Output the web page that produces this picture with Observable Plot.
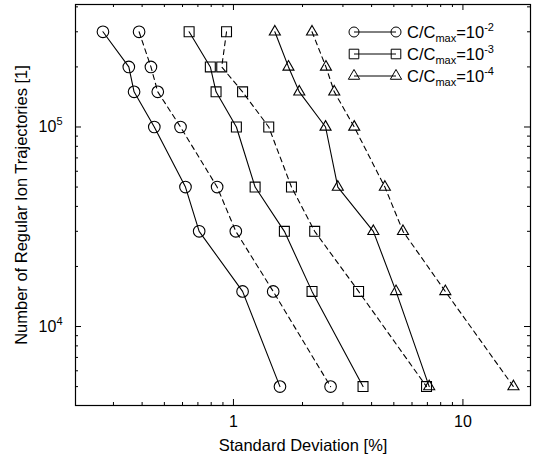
<!DOCTYPE html>
<html><head><meta charset="utf-8">
<script src="https://cdn.jsdelivr.net/npm/d3@7"></script>
<script src="https://cdn.jsdelivr.net/npm/@observablehq/plot@0.6"></script>
<style>body{margin:0;background:#fff} svg{display:block}</style>
</head><body><div id="chart"></div>
<script>
// Number of regular ion trajectories (y) shared by every series
const trajectories = [300000, 200000, 150000, 100000, 50000, 30000, 15000, 5000];
// Standard deviation [%] for each series (solid / dashed per concentration)
const sdCircleSolid    = [0.270, 0.350, 0.369, 0.452, 0.618, 0.709, 1.096, 1.595];
const sdCircleDashed   = [0.388, 0.437, 0.468, 0.588, 0.849, 1.024, 1.49, 2.65];
const sdSquareSolid    = [0.641, 0.793, 0.840, 1.03, 1.243, 1.667, 2.20, 3.67];
const sdSquareDashed   = [0.933, 0.889, 1.096, 1.425, 1.79, 2.26, 3.51, 6.94];
const sdTriangleSolid  = [1.515, 1.737, 1.936, 2.52, 2.85, 4.07, 5.11, 7.13];
const sdTriangleDashed = [2.20, 2.53, 2.75, 3.36, 4.57, 5.48, 8.38, 16.6];
// Ticks and labels
const xMajor = [1, 10];
const xMinor = [0.3, 0.4, 0.5, 0.6, 0.7, 0.8, 0.9, 2, 3, 4, 5, 6, 7, 8, 9];
const yMajor = [1e4, 1e5];
const yMinor = [5e3, 6e3, 7e3, 8e3, 9e3, 2e4, 3e4, 4e4, 5e4, 6e4, 7e4, 8e4, 9e4, 2e5, 3e5, 4e5];
const legendExponents = ["-2", "-3", "-4"];
const legendSymbols = ["circle", "square", "triangle"];
const xTitle = "Standard Deviation [%]";
const yTitle = "Number of Regular Ion Trajectories [1]";

const series = [
  {name: "c2s", symbol: "circle", dashed: false, sd: sdCircleSolid},
  {name: "c2d", symbol: "circle", dashed: true, sd: sdCircleDashed},
  {name: "c3s", symbol: "square", dashed: false, sd: sdSquareSolid},
  {name: "c3d", symbol: "square", dashed: true, sd: sdSquareDashed},
  {name: "c4s", symbol: "triangle", dashed: false, sd: sdTriangleSolid},
  {name: "c4d", symbol: "triangle", dashed: true, sd: sdTriangleDashed}
];
const rows = series.flatMap(s => s.sd.map((v, i) => ({series: s.name, symbol: s.symbol, dashed: s.dashed, sd: v, n: trajectories[i]})));

const FONT = "'Liberation Sans', Arial, Helvetica, sans-serif";
const W = 535, H = 460, ML = 75, MR = 5, MT = 4, MB = 55;
const innerW = W - ML - MR, innerH = H - MT - MB;
const rSym = {circle: 5.8, square: 5.6, triangle: 4.1};
const MAJ = 6, MIN = 3;

const chart = Plot.plot({
  width: W, height: H,
  marginLeft: ML, marginRight: MR, marginTop: MT, marginBottom: MB,
  style: {fontFamily: FONT, fontSize: "16px", color: "black", background: "white"},
  x: {type: "log", domain: [0.205, 19.7]},
  y: {type: "log", domain: [4020, 411000]},
  marks: [
    // inward ticks on all four sides
    Plot.tickY(yMajor, {y: d => d, insetRight: innerW - MAJ, stroke: "black"}),
    Plot.tickY(yMajor, {y: d => d, insetLeft: innerW - MAJ, stroke: "black"}),
    Plot.tickY(yMinor, {y: d => d, insetRight: innerW - MIN, stroke: "black"}),
    Plot.tickY(yMinor, {y: d => d, insetLeft: innerW - MIN, stroke: "black"}),
    Plot.tickX(xMajor, {x: d => d, insetTop: innerH - MAJ, stroke: "black"}),
    Plot.tickX(xMajor, {x: d => d, insetBottom: innerH - MAJ, stroke: "black"}),
    Plot.tickX(xMinor, {x: d => d, insetTop: innerH - MIN, stroke: "black"}),
    Plot.tickX(xMinor, {x: d => d, insetBottom: innerH - MIN, stroke: "black"}),
    Plot.axisY({ticks: yMajor, tickSize: 0, tickPadding: 13, fontSize: 16, label: null,
      tickFormat: d => "10^" + Math.round(Math.log10(d))}),
    Plot.axisX({ticks: xMajor, tickSize: 0, tickPadding: 10, fontSize: 16, label: null,
      tickFormat: d => String(d)}),
    Plot.text([xTitle], {text: d => d, frameAnchor: "bottom", textAnchor: "middle", dy: 45, fontSize: 16.5}),
    Plot.text([yTitle], {text: d => d, frameAnchor: "left", textAnchor: "middle", dx: -54, rotate: -90, fontSize: 16.5}),
    Plot.line(rows.filter(d => !d.dashed), {x: "sd", y: "n", z: "series", stroke: "black", strokeWidth: 1.1}),
    Plot.line(rows.filter(d => d.dashed), {x: "sd", y: "n", z: "series", stroke: "black", strokeWidth: 1.1, strokeDasharray: "5,4"}),
    ...legendSymbols.map(sym => Plot.dot(rows.filter(d => d.symbol === sym),
      {x: "sd", y: "n", symbol: sym, r: rSym[sym], stroke: "black", fill: "none", strokeWidth: 1.1})),
    Plot.frame({stroke: "black", strokeWidth: 1.2})
  ]
});
document.getElementById("chart").append(chart);

// superscript exponents on y tick labels
d3.select(chart).selectAll('g[aria-label="y-axis tick label"] text').each(function() {
  const t = this.textContent.split("^");
  const sel = d3.select(this);
  sel.text(t[0]);
  sel.append("tspan").attr("font-size", 11).attr("dy", -7).text(t[1]);
});

// legend
const lg = d3.select(chart).append("g").attr("font-family", FONT).attr("fill", "black").attr("text-anchor", "start");
const lx1 = 354, lx2 = 396, ltx = 407, ly0 = 32, lstep = 22;
const legendR = {circle: 5, square: 5.4, triangle: 4.2};
const d3Sym = {circle: d3.symbolCircle, square: d3.symbolSquare, triangle: d3.symbolTriangle};
legendSymbols.forEach((sym, i) => {
  const y = ly0 + i * lstep;
  lg.append("line").attr("x1", lx1).attr("x2", lx2).attr("y1", y).attr("y2", y).attr("stroke", "black");
  for (const x of [lx1, lx2]) {
    lg.append("path").attr("d", d3.symbol(d3Sym[sym], Math.PI * legendR[sym] ** 2)())
      .attr("transform", `translate(${x},${y})`).attr("fill", "none").attr("stroke", "black");
  }
  const t = lg.append("text").attr("x", ltx).attr("y", y).attr("dy", "0.35em").attr("font-size", 16.5).attr("text-anchor", "start");
  t.append("tspan").text("C/C");
  t.append("tspan").attr("font-size", 11).attr("dy", 4).text("max");
  t.append("tspan").attr("dy", -4).text("=10");
  t.append("tspan").attr("font-size", 11).attr("dy", -7).text(legendExponents[i]);
});
</script></body></html>
